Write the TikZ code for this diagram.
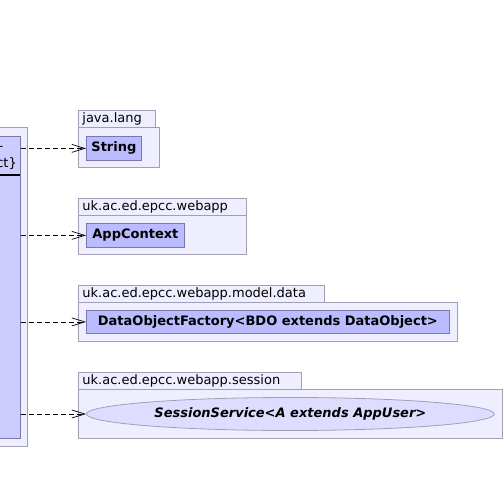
\documentclass[tikz,border=0pt]{standalone}
\usepackage{fontspec}
\setmainfont{DejaVu Sans}
\usetikzlibrary{arrows.meta,shapes.geometric}
\definecolor{pkgfill}{RGB}{238,238,255}
\definecolor{pkgline}{RGB}{160,160,180}
\definecolor{clsfill}{RGB}{187,187,255}
\definecolor{lclsfill}{RGB}{204,204,255}
\definecolor{clsline}{RGB}{120,120,170}
\definecolor{ellfill}{RGB}{221,221,255}
\tikzset{
  x=1pt, y=1pt,
  every node/.style={font=\fontsize{13}{15}\selectfont},
  pkgtab/.style={draw=pkgline, fill=pkgfill, line width=0.8pt, anchor=north west,
    inner xsep=4pt, inner ysep=0pt, minimum height=17pt, align=left},
  pkgbody/.style={draw=pkgline, fill=pkgfill, line width=0.8pt, anchor=north west,
    inner sep=0pt},
  clsbox/.style={draw=clsline, fill=clsfill, line width=0.8pt, anchor=north west,
    inner sep=0pt, font=\fontsize{13}{15}\selectfont\bfseries},
  dep/.style={dash pattern=on 5pt off 3pt, line width=0.7pt,
    -{Straight Barb[length=13pt,width=8pt,line width=0.7pt]}},
}
\begin{document}
\begin{tikzpicture}
\useasboundingbox (0,0) rectangle (504,-484);
\clip (0,0) rectangle (504,-484);
\fill[white] (0,0) rectangle (504,-484);

% left package and class
\node[pkgbody, anchor=north east, minimum width=60pt, minimum height=319pt] (lpkg) at (28,-127) {};
\node[pkgbody, draw=clsline, fill=lclsfill, anchor=north east, minimum width=52pt, minimum height=302pt] (cls) at (20.5,-136) {};
\node[anchor=base east, inner sep=0pt] (clsdash) at (3.5,-151) {-};
\node[anchor=base east, inner sep=0pt] (clsabs) at (17,-168) {ct\}};
\draw[line width=1.5pt] (0,-175) -- (20,-175);

% java.lang
\node[pkgbody, minimum width=81pt, minimum height=40pt] (jlBody) at (78,-127) {};
\node[pkgtab, minimum width=77pt, text width=69pt] (jlTab) at (78,-110) {java.lang};
\node[clsbox, minimum width=55pt, minimum height=24pt] (str) at (86,-136) {String};

% uk.ac.ed.epcc.webapp
\node[pkgbody, minimum width=168pt, minimum height=39pt] (waBody) at (78,-215) {};
\node[pkgtab, minimum width=168pt, text width=160pt] (waTab) at (78,-198) {uk.ac.ed.epcc.webapp};
\node[clsbox, minimum width=98pt, minimum height=24pt] (ctx) at (86,-223) {AppContext};

% uk.ac.ed.epcc.webapp.model.data
\node[pkgbody, minimum width=379pt, minimum height=39pt] (mdBody) at (78,-302) {};
\node[pkgtab, minimum width=246pt, text width=238pt] (mdTab) at (78,-285) {uk.ac.ed.epcc.webapp.model.data};
\node[clsbox, minimum width=363pt, minimum height=23pt] (dof) at (86,-310) {DataObjectFactory<BDO extends DataObject>};

% uk.ac.ed.epcc.webapp.session
\node[pkgbody, minimum width=424pt, minimum height=49pt] (ssBody) at (78,-389) {};
\node[pkgtab, minimum width=223pt, text width=215pt] (ssTab) at (78,-372) {uk.ac.ed.epcc.webapp.session};
\node[ellipse, draw=pkgline, fill=ellfill, line width=0.8pt, inner sep=0pt,
  minimum width=408pt, minimum height=33pt, anchor=west,
  font=\fontsize{13}{15}\selectfont\bfseries\itshape] (ss) at (86,-414) {SessionService<A extends AppUser>};

% dependencies
\draw[dep] (cls.east |- str.west) -- (str.west);
\draw[dep] (cls.east |- ctx.west) -- (ctx.west);
\draw[dep] (cls.east |- dof.west) -- (dof.west);
\draw[dep] (cls.east |- ss.west) -- (ss.west);
\end{tikzpicture}
\end{document}
